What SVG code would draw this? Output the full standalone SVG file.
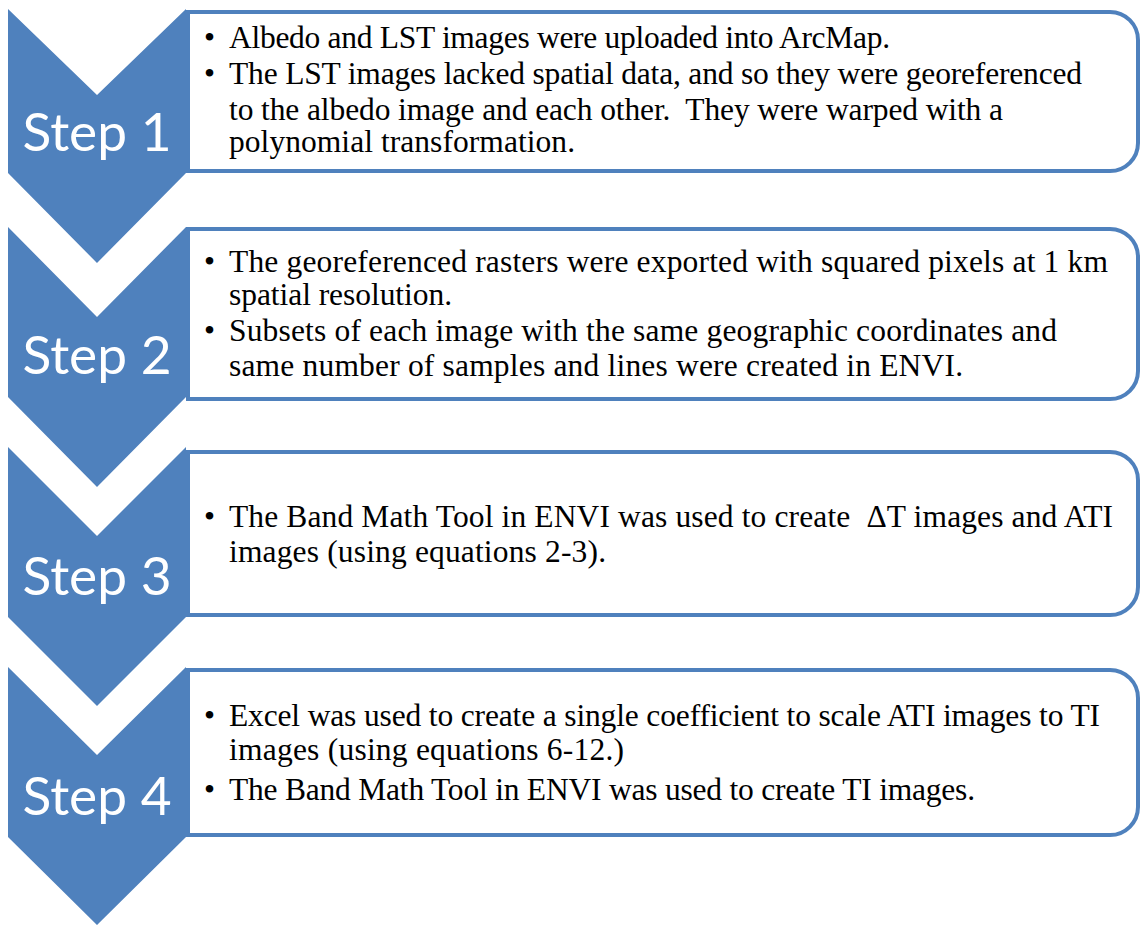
<svg xmlns="http://www.w3.org/2000/svg" width="1144" height="926" viewBox="0 0 1144 926">
<style>
.chev{fill:#4F81BD;stroke:none}
.box{fill:#FFFFFF;stroke:#4F81BD;stroke-width:4}
.step{font-family:Lato,"Liberation Sans",sans-serif;font-size:52px;fill:#FFFFFF;text-anchor:middle}
.t{font-family:"Liberation Serif","Times New Roman",serif;font-size:31.5px;fill:#000000;white-space:pre}
</style>
<rect width="1144" height="926" fill="#FFFFFF"/>
<g id="step1">
<path class="box" d="M188,12 H1110 A28,28 0 0 1 1138,40 V143 A28,28 0 0 1 1110,171 H188 Z"/>
<polygon class="chev" points="8,9 97,95 186,9 186,173 97,263 8,173"/>
<text class="step" x="97" y="151" textLength="149" lengthAdjust="spacingAndGlyphs">Step 1</text>
<text class="t" x="204" y="48">•</text><text class="t" x="229" y="48" textLength="661" lengthAdjust="spacing">Albedo and LST images were uploaded into ArcMap.</text>
<text class="t" x="204" y="84">•</text><text class="t" x="229" y="84" textLength="853" lengthAdjust="spacing">The LST images lacked spatial data, and so they were georeferenced</text>
<text class="t" x="229" y="120" xml:space="preserve" textLength="774" lengthAdjust="spacing">to the albedo image and each other.  They were warped with a</text>
<text class="t" x="229" y="152" textLength="346" lengthAdjust="spacing">polynomial transformation.</text>
</g>
<g id="step2">
<path class="box" d="M188,229 H1110 A28,28 0 0 1 1138,257 V371 A28,28 0 0 1 1110,399 H188 Z"/>
<polygon class="chev" points="8,227 97,317 186,227 186,397 97,487 8,397"/>
<text class="step" x="97" y="374" textLength="149" lengthAdjust="spacingAndGlyphs">Step 2</text>
<text class="t" x="204" y="272">•</text><text class="t" x="229" y="272" textLength="879" lengthAdjust="spacing">The georeferenced rasters were exported with squared pixels at 1 km</text>
<text class="t" x="229" y="305" textLength="223" lengthAdjust="spacing">spatial resolution.</text>
<text class="t" x="204" y="341">•</text><text class="t" x="229" y="341" textLength="828" lengthAdjust="spacing">Subsets of each image with the same geographic coordinates and</text>
<text class="t" x="229" y="376" textLength="734" lengthAdjust="spacing">same number of samples and lines were created in ENVI.</text>
</g>
<g id="step3">
<path class="box" d="M188,452 H1110 A28,28 0 0 1 1138,480 V587 A28,28 0 0 1 1110,615 H188 Z"/>
<polygon class="chev" points="8,447 97,536 186,447 186,617 97,706 8,617"/>
<text class="step" x="97" y="595" textLength="149" lengthAdjust="spacingAndGlyphs">Step 3</text>
<text class="t" x="204" y="527">•</text><text class="t" x="229" y="527" xml:space="preserve" textLength="884" lengthAdjust="spacing">The Band Math Tool in ENVI was used to create  ΔT images and ATI</text>
<text class="t" x="229" y="562" textLength="377" lengthAdjust="spacing">images (using equations 2-3).</text>
</g>
<g id="step4">
<path class="box" d="M188,670 H1110 A28,28 0 0 1 1138,698 V807 A28,28 0 0 1 1110,835 H188 Z"/>
<polygon class="chev" points="8,667 97,755 186,667 186,837 97,925 8,837"/>
<text class="step" x="97" y="815" textLength="149" lengthAdjust="spacingAndGlyphs">Step 4</text>
<text class="t" x="204" y="726">•</text><text class="t" x="229" y="726" textLength="871" lengthAdjust="spacing">Excel was used to create a single coefficient to scale ATI images to TI</text>
<text class="t" x="229" y="760" textLength="395" lengthAdjust="spacing">images (using equations 6-12.)</text>
<text class="t" x="204" y="800">•</text><text class="t" x="229" y="800" textLength="746" lengthAdjust="spacing">The Band Math Tool in ENVI was used to create TI images.</text>
</g>
</svg>
